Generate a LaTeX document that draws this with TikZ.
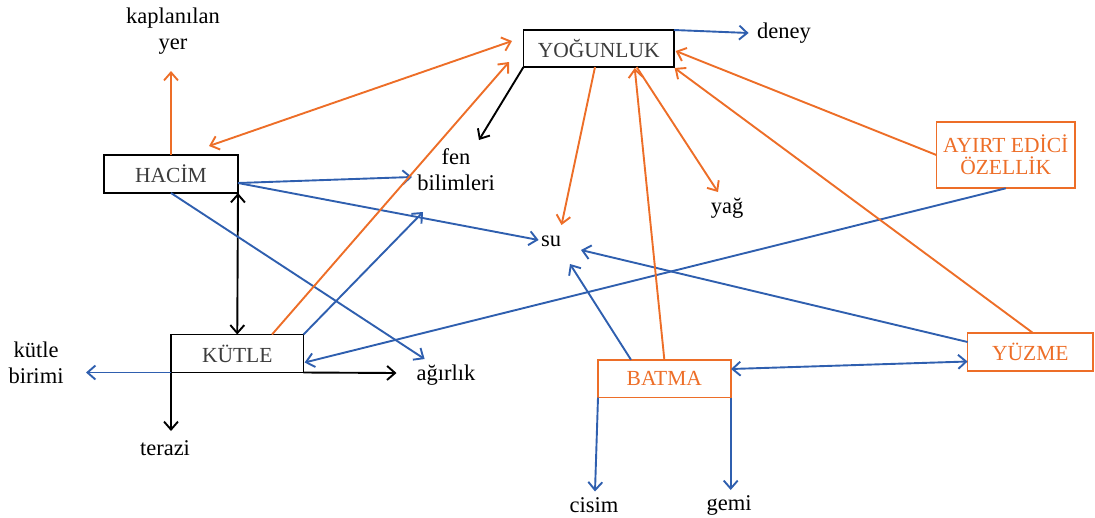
\documentclass[tikz,border=0pt]{standalone}
\usepackage{fontspec}
\setmainfont{Liberation Serif}
\usetikzlibrary{arrows.meta}
\definecolor{orng}{RGB}{237,110,40}
\definecolor{blu}{RGB}{47,95,175}
\definecolor{boxtext}{RGB}{60,60,60}
\begin{document}
\begin{tikzpicture}[x=1pt,y=-1pt,
  every node/.style={inner sep=0pt, outer sep=0pt},
  conceptbox/.style={draw=black, line width=1.7pt, text=boxtext, align=center,
    font=\fontsize{21.5}{25}\selectfont},
  orangebox/.style={draw=orng, line width=1.7pt, text=orng, align=center,
    font=\fontsize{21.5}{23}\selectfont},
  lbl/.style={align=center, font=\fontsize{22.5}{26}\selectfont},
  tip/.style={-{Straight Barb[length=8pt,width=14pt]}},
  twotips/.style={{Straight Barb[length=8pt,width=14pt]}-{Straight Barb[length=8pt,width=14pt]}},
  bluearr/.style={draw=blu, line width=1.9pt},
  orangearr/.style={draw=orng, line width=1.9pt},
  blackarr/.style={draw=black, line width=1.9pt}]
\useasboundingbox (0,0) rectangle (1095,517);

% concept boxes
\node[conceptbox, minimum width=134pt, minimum height=38pt] (hacim) at (171,174) {HAC\.IM};
\node[conceptbox, minimum width=150.5pt, minimum height=37pt] (yog) at (598.75,48.5) {YOĞUNLUK};
\node[conceptbox, minimum width=132.5pt, minimum height=38pt] (kutle) at (237.25,353.5) {KÜTLE};
\node[orangebox, minimum width=138.6pt, minimum height=66.6pt] (ayirt) at (1005.7,155) {AYIRT ED\.IC\.I\\[-1pt]ÖZELL\.IK};
\node[orangebox, minimum width=125.5pt, minimum height=38pt] (yuzme) at (1030.3,352) {YÜZME};
\node[orangebox, minimum width=132.7pt, minimum height=37.8pt] (batma) at (664.35,378.7) {BATMA};

% plain labels
\node[lbl] (kap) at (173,31) {kaplanılan\\yer};
\node[lbl] (fen) at (456,170) {fen\\bilimleri};
\node[lbl] (deney) at (784,33) {deney};
\node[lbl] (yag) at (727,208) {yağ};
\node[lbl] (su) at (551,241) {su};
\node[lbl] (agirlik) at (446,375) {ağırlık};
\node[lbl] (birim) at (36,363) {kütle\\birimi};
\node[lbl] (terazi) at (165,448) {terazi};
\node[lbl] (cisim) at (594,505) {cisim};
\node[lbl] (gemi) at (729,505) {gemi};

% connector end points
\coordinate (kapTip) at (171,71);
\coordinate (hacUR) at (209,146);
\coordinate (yogL1) at (512,41);
\coordinate (fenTip) at (479,140);
\coordinate (hacR) at (238,183);
\coordinate (fenTipB) at (412,177);
\coordinate (suTipA) at (538.6,240);
\coordinate (agTip) at (424.6,359);
\coordinate (kutTop) at (272,334.5);
\coordinate (yogL2) at (509,62);
\coordinate (fenTipC) at (423,212);
\coordinate (kutR) at (304.6,362.5);
\coordinate (agTipB) at (396.5,373);
\coordinate (birTip) at (86,372.5);
\coordinate (terTip) at (171,431);
\coordinate (denTip) at (748.6,33);
\coordinate (yogB1) at (595,67);
\coordinate (suTipB) at (561.5,225);
\coordinate (yogB2) at (634.7,68);
\coordinate (yogB3) at (636.6,67);
\coordinate (yagTip) at (718,192);
\coordinate (yogR) at (675.7,51);
\coordinate (yogBR) at (674.6,68);
\coordinate (yuzTop) at (1033,333);
\coordinate (yuzL1) at (967.6,342);
\coordinate (suTipC) at (581,250);
\coordinate (batTop) at (631,359.8);
\coordinate (suTipD) at (570,264);
\coordinate (batR) at (731,369);
\coordinate (yuzL2) at (967.6,361.5);
\coordinate (cisTip) at (595,491.5);
\coordinate (gemTip) at (730.7,490);

% HACIM links
\draw[orangearr, tip] (hacim.north) -- (kapTip);
\draw[orangearr, twotips] (hacUR) -- (yogL1);
\draw[bluearr, tip] (hacR) -- (fenTipB);
\draw[bluearr, tip] (hacR) -- (suTipA);
\draw[blackarr, twotips] (hacim.south east) -- (kutle.north);
\draw[bluearr, tip] (hacim.south) -- (agTip);

% YOGUNLUK links
\draw[blackarr, tip] (yog.south west) -- (fenTip);
\draw[bluearr, tip] (yog.north east) -- (denTip);
\draw[orangearr, tip] (yogB1) -- (suTipB);
\draw[orangearr, tip] (yogB3) -- (yagTip);

% KUTLE links
\draw[orangearr, tip] (kutTop) -- (yogL2);
\draw[bluearr, tip] (kutle.north east) -- (fenTipC);
\draw[blackarr, tip] (kutle.south east) -- (agTipB);
\draw[bluearr, tip] (kutle.south west) -- (birTip);
\draw[blackarr, tip] (kutle.south west) -- (terTip);

% AYIRT EDICI OZELLIK links
\draw[orangearr, tip] (ayirt.west) -- (yogR);
\draw[bluearr, tip] (ayirt.south) -- (kutR);

% YUZME links
\draw[orangearr, tip] (yuzTop) -- (yogBR);
\draw[bluearr, tip] (yuzL1) -- (suTipC);

% BATMA links
\draw[orangearr, tip] (batma.north) -- (yogB2);
\draw[bluearr, tip] (batTop) -- (suTipD);
\draw[bluearr, twotips] (batR) -- (yuzL2);
\draw[bluearr, tip] (batma.south west) -- (cisTip);
\draw[bluearr, tip] (batma.south east) -- (gemTip);
\end{tikzpicture}
\end{document}
